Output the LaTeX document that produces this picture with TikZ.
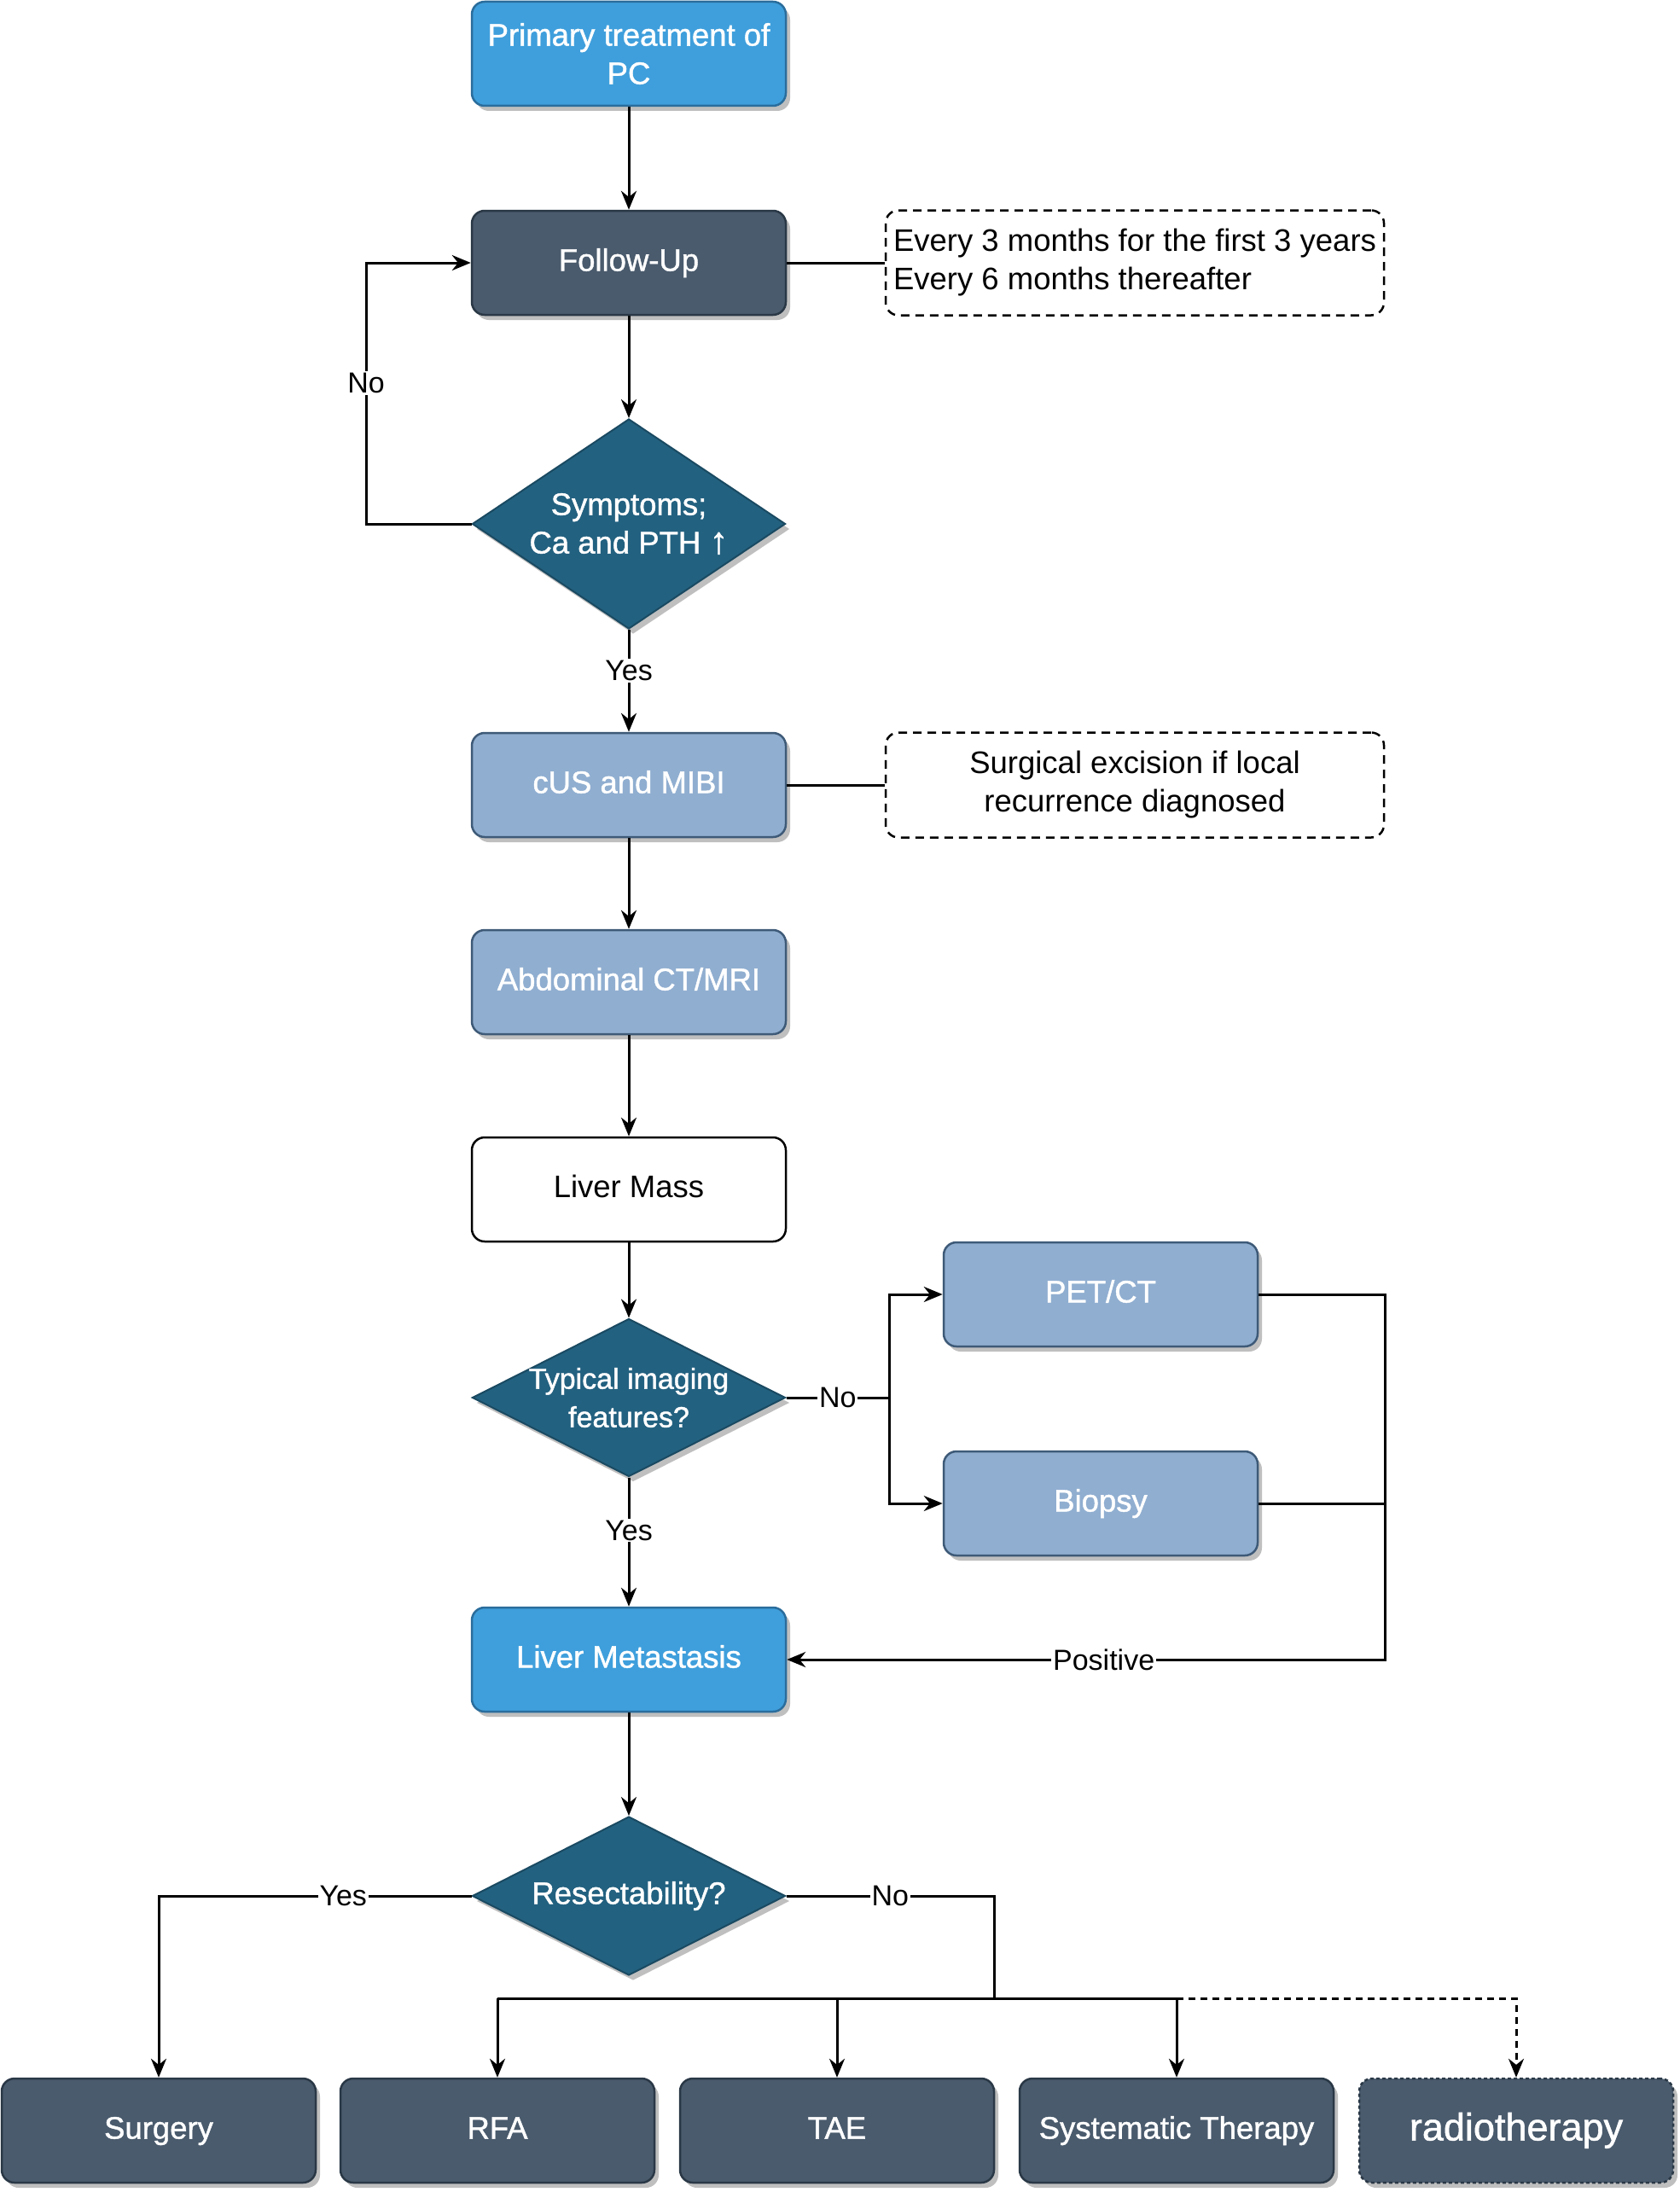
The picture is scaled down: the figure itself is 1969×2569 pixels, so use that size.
\documentclass[tikz,border=0pt]{standalone}
\usepackage{fontspec}
\setmainfont{Liberation Sans}
\newfontfamily\wfont[FakeBold=1.2]{Liberation Sans}
\usetikzlibrary{shapes.geometric,arrows.meta,shadows}
\definecolor{cBright}{HTML}{3F9FDC}
\definecolor{cBrightD}{HTML}{2A6D9C}
\definecolor{cSlate}{HTML}{4A5B6D}
\definecolor{cSlateD}{HTML}{2A3846}
\definecolor{cLight}{HTML}{90AED0}
\definecolor{cLightD}{HTML}{3E5A78}
\definecolor{cDia}{HTML}{236180}
\definecolor{cDiaD}{HTML}{1A4A62}
\newcommand{\fsz}{\fontsize{36.5}{45}\selectfont}
\newcommand{\wsz}{\wfont\fontsize{36.5}{45}\selectfont}
\newcommand{\lsz}{\fontsize{34}{40}\selectfont}
\newcommand{\bsz}{\wfont\fontsize{45}{52}\selectfont}
\tikzset{
  shd/.style={drop shadow={shadow xshift=5pt, shadow yshift=-6pt, fill=black!25, opacity=1}},
  box/.style={rectangle, rounded corners=15pt, minimum width=368pt, minimum height=122pt,
    line width=2.5pt, text=white, align=center, font=\wsz, inner sep=4pt},
  oneline/.style={text height=26pt, text depth=7pt},
  bright/.style={box, shd, fill=cBright, draw=cBrightD},
  slate/.style={box, shd, fill=cSlate, draw=cSlateD, oneline},
  light/.style={box, shd, fill=cLight, draw=cLightD, oneline},
  plain/.style={box, fill=white, draw=black, text=black, font=\fsz, oneline},
  decision/.style={diamond, minimum width=367pt, inner sep=0pt, fill=cDia, draw=cDiaD,
    line width=2pt, shd},
  dtext/.style={text=white, align=center, font=\wsz},
  note/.style={rectangle, rounded corners=15pt, draw=black, dash pattern=on 10pt off 7pt,
    line width=2.5pt, minimum width=584pt, minimum height=123pt, font=\fsz, inner sep=4pt},
  arr/.style={-{Stealth[length=22pt,width=18pt]}, line width=3pt},
  link/.style={line width=3pt},
  lbl/.style={fill=white, font=\lsz, inner sep=2pt, text=black},
}
\begin{document}
\begin{tikzpicture}[x=1pt,y=-1pt]
\fill[white] (0,0) rectangle (1969,2569);
\useasboundingbox (0,0) rectangle (1969,2569);

% main column
\node[bright] (prim) at (737,63) {Primary treatment of\\PC};
\node[slate] (fu) at (737,308) {Follow-Up};
\node[note, align=left] (n1) at (1330,308) {Every 3 months for the first 3 years\\Every 6 months thereafter};
\node[decision, minimum height=246pt] (d1) at (737,614) {};
\node[dtext] (d1t) at (737,614) {Symptoms;\\Ca and PTH {\fontsize{44}{45}\selectfont↑}};
\node[light] (cus) at (737,920) {cUS and MIBI};
\node[note, align=center] (n2) at (1330,920) {Surgical excision if local\\recurrence diagnosed};
\node[light] (abd) at (737,1151) {Abdominal CT/MRI};
\node[plain] (mass) at (737,1394) {Liver Mass};
\node[decision, minimum height=185pt] (d2) at (737,1638) {};
\node[dtext, font=\wfont\fontsize{34}{45}\selectfont] (d2t) at (737,1638) {Typical imaging\\features?};
\node[light] (pet) at (1290,1517) {PET/CT};
\node[light] (bio) at (1290,1762) {Biopsy};
\node[bright, oneline] (met) at (737,1945) {Liver Metastasis};
\node[decision, minimum height=186pt] (d3) at (737,2222) {};
\node[dtext] (d3t) at (737,2222) {Resectability?};

% bottom row
\node[slate] (surg) at (186,2497) {Surgery};
\node[slate] (rfa) at (583,2497) {RFA};
\node[slate] (tae) at (981,2497) {TAE};
\node[slate] (sys) at (1379,2497) {Systematic Therapy};
\node[slate, dash pattern=on 4pt off 3pt, font=\bsz, text height=32pt, text depth=9pt] (rad) at (1777,2497) {radiotherapy};

% coordinates
\coordinate (lp) at (429,614);
\coordinate (j1) at (1042,1638);
\coordinate (rc) at (1623,1945);
\coordinate (nj) at (1165,2222);
\coordinate (bus) at (1165,2342);

% connectors
\draw[arr] (prim) -- (fu);
\draw[link] (fu.east) -- (n1.west);
\draw[arr] (fu) -- (d1.north);
\draw[arr] (d1.west) -- (lp) |- node[lbl,pos=0.27]{No} (fu.west);
\draw[arr] (d1.south) -- node[lbl,pos=0.4]{Yes} (cus.north);
\draw[link] (cus.east) -- (n2.west);
\draw[arr] (cus) -- (abd);
\draw[arr] (abd) -- (mass);
\draw[arr] (mass) -- (d2.north);
\draw[link] (d2.east) -- node[lbl,pos=0.5]{No} (j1);
\draw[arr] (j1) |- (pet.west);
\draw[arr] (j1) |- (bio.west);
\draw[arr] (d2.south) -- node[lbl,pos=0.41]{Yes} (met.north);
\draw[arr] (pet.east) -- (pet.east -| rc) -- (rc) -- node[lbl,pos=0.47]{Positive} (met.east);
\draw[link] (bio.east) -- (bio.east -| rc);
\draw[arr] (met) -- (d3.north);
\draw[arr] (d3.west) -- node[lbl,pos=0.41]{Yes} (d3.west -| surg) -- (surg.north);
\draw[link] (d3.east) -- node[lbl,pos=0.5]{No} (nj) -- (bus);
\draw[link] (rfa.north |- bus) -- (sys.north |- bus);
\draw[arr] (rfa.north |- bus) -- (rfa.north);
\draw[arr] (tae.north |- bus) -- (tae.north);
\draw[arr] (sys.north |- bus) -- (sys.north);
\draw[arr, dash pattern=on 8pt off 6pt] (sys.north |- bus) -- (rad.north |- bus) -- (rad.north);
\end{tikzpicture}
\end{document}
